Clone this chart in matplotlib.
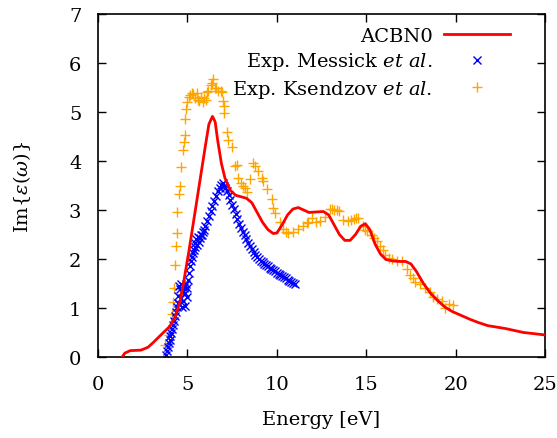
import matplotlib
matplotlib.use('Agg')
import matplotlib.pyplot as plt

# ACBN0 calculation (red line)
acbn0_x = [1.35, 1.5, 1.8, 2.4, 2.8, 3.1, 3.6, 4.0, 4.3, 4.6, 4.8, 5.1, 5.4, 5.7, 6.0, 6.2, 6.4,
           6.55, 6.7, 6.9, 7.1, 7.4, 7.7, 8.0, 8.3, 8.6, 8.9, 9.2, 9.5, 9.8, 10.0, 10.3, 10.6,
           10.9, 11.2, 11.5, 11.8, 12.2, 12.6, 12.9, 13.2, 13.5, 13.8, 14.1, 14.4, 14.7, 14.95,
           15.2, 15.5, 15.8, 16.1, 16.5, 16.9, 17.2, 17.5, 17.8, 18.2, 18.6, 19.0, 19.4, 19.8,
           20.3, 20.8, 21.3, 21.8, 22.3, 22.8, 23.3, 23.8, 24.3, 25.0]
acbn0_y = [0.0, 0.08, 0.13, 0.14, 0.2, 0.3, 0.48, 0.62, 0.8, 1.15, 1.55, 2.2, 2.9, 3.6, 4.3, 4.75, 4.91,
           4.8, 4.4, 3.95, 3.65, 3.4, 3.3, 3.27, 3.24, 3.15, 2.95, 2.75, 2.6, 2.52, 2.53, 2.7, 2.9,
           3.02, 3.05, 3.0, 2.95, 2.96, 2.97, 2.9, 2.7, 2.5, 2.38, 2.38, 2.5, 2.67, 2.72,
           2.6, 2.3, 2.1, 1.99, 1.96, 1.95, 1.95, 1.9, 1.75, 1.5, 1.3, 1.15, 1.02, 0.93,
           0.85, 0.77, 0.7, 0.64, 0.61, 0.58, 0.54, 0.5, 0.48, 0.45]

# Messick et al. (blue x)
messick_x = [3.80, 3.85, 3.90, 3.95, 4.00, 4.05, 4.10, 4.15, 4.20, 4.25, 4.30, 4.35, 4.40, 4.45,
             4.50, 4.52, 4.55, 4.58, 4.62, 4.65, 4.68, 4.72, 4.75, 4.78, 4.82, 4.85, 4.88, 4.92,
             4.95, 5.00, 5.05, 5.10, 5.15, 5.20, 5.25, 5.30, 5.35, 5.40, 5.45, 5.50, 5.55, 5.60,
             5.65, 5.70, 5.75, 5.80, 5.85, 5.90, 6.00, 6.10, 6.20, 6.30, 6.40, 6.50, 6.60, 6.70,
             6.80, 6.90, 7.00, 7.05, 7.10, 7.20, 7.30, 7.40, 7.50, 7.60, 7.70, 7.80, 7.90, 8.00,
             8.10, 8.20, 8.30, 8.40, 8.50, 8.60, 8.70, 8.80, 8.90, 9.00, 9.10, 9.20, 9.30, 9.40,
             9.50, 9.60, 9.70, 9.80, 9.90, 10.00, 10.10, 10.20, 10.30, 10.40, 10.50, 10.60,
             10.70, 10.80, 10.90, 11.00]
messick_y = [0.05, 0.12, 0.20, 0.28, 0.35, 0.42, 0.50, 0.58, 0.65, 0.74, 0.83, 0.92, 1.02, 1.10,
             1.25, 1.45, 1.08, 1.38, 1.20, 1.50, 1.02, 1.32, 1.45, 1.15, 1.40, 1.05, 1.30, 1.48,
             1.22, 1.40, 1.58, 1.72, 1.85, 1.95, 2.05, 2.12, 2.18, 2.25, 2.32, 2.40, 2.28, 2.45,
             2.35, 2.42, 2.50, 2.48, 2.55, 2.60, 2.68, 2.78, 2.88, 2.98, 3.08, 3.18, 3.28, 3.38,
             3.45, 3.52, 3.55, 3.48, 3.45, 3.38, 3.30, 3.20, 3.10, 3.02, 2.92, 2.82, 2.72, 2.63,
             2.55, 2.48, 2.40, 2.32, 2.26, 2.20, 2.14, 2.09, 2.04, 2.00, 1.96, 1.93, 1.90, 1.87,
             1.85, 1.82, 1.80, 1.77, 1.75, 1.72, 1.70, 1.68, 1.65, 1.63, 1.61, 1.58,
             1.56, 1.53, 1.51, 1.48]

# Ksendzov et al. (orange +)
ksendzov_x = [3.75, 3.95, 4.12, 4.17, 4.25, 4.29, 4.36, 4.40, 4.44, 4.55, 4.59, 4.66, 4.75, 4.81,
              4.85, 4.88, 4.92, 4.99, 5.10, 5.15, 5.25, 5.33, 5.42, 5.51, 5.60, 5.66, 5.75, 5.85,
              5.95, 6.04, 6.10, 6.17, 6.30, 6.36, 6.45, 6.54, 6.62, 6.73, 6.85, 6.92, 6.97, 7.05,
              7.06, 7.23, 7.29, 7.47, 7.66, 7.75, 7.85, 7.98, 8.10, 8.22, 8.32, 8.50, 8.65, 8.78,
              8.97, 9.15, 9.25, 9.44, 9.71, 9.80, 9.90, 10.18, 10.36, 10.50, 10.64, 10.92, 11.20,
              11.44, 11.67, 11.76, 11.95, 12.19, 12.42, 12.70, 12.98, 13.10, 13.20, 13.35, 13.50,
              13.72, 14.00, 14.15, 14.32, 14.45, 14.56, 14.84, 14.93, 15.06, 15.30, 15.45, 15.58,
              15.77, 15.92, 16.05, 16.25, 16.43, 16.71, 16.99, 17.27, 17.45, 17.60, 17.73, 18.00,
              18.29, 18.57, 18.72, 18.97, 19.22, 19.41, 19.65, 19.87]
ksendzov_y = [0.24, 0.45, 0.88, 1.12, 1.41, 1.88, 2.27, 2.54, 2.95, 3.33, 3.50, 3.87, 4.22, 4.38,
              4.53, 4.86, 5.07, 5.20, 5.30, 5.35, 5.38, 5.37, 5.28, 5.39, 5.25, 5.23, 5.30, 5.21,
              5.28, 5.25, 5.40, 5.42, 5.55, 5.60, 5.67, 5.50, 5.48, 5.43, 5.42, 5.40, 5.23, 5.13,
              4.97, 4.60, 4.43, 4.28, 3.90, 3.92, 3.65, 3.56, 3.50, 3.44, 3.36, 3.63, 3.96, 3.90,
              3.80, 3.65, 3.60, 3.42, 3.22, 3.05, 2.94, 2.76, 2.62, 2.55, 2.53, 2.56, 2.61,
              2.67, 2.73, 2.76, 2.83, 2.76, 2.78, 2.85, 3.02, 3.03, 3.01, 3.00, 2.97,
              2.80, 2.78, 2.80, 2.82, 2.84, 2.83, 2.68, 2.60, 2.58, 2.48, 2.42, 2.37,
              2.27, 2.19, 2.08, 2.02, 1.99, 1.95, 1.95, 1.80, 1.67, 1.61, 1.54, 1.49,
              1.40, 1.32, 1.22, 1.18, 1.15, 0.99, 1.08, 1.06]

plt.rcParams['font.family'] = ['DejaVu Serif']
plt.rcParams['mathtext.fontset'] = 'dejavuserif'
plt.rcParams['font.size'] = 14

fig = plt.figure(figsize=(5.57, 4.39), dpi=100)
ax = fig.add_axes([0.176, 0.1845, 0.8025, 0.7813])

ax.plot(acbn0_x, acbn0_y, color='#ff0000', lw=2, label='ACBN0', zorder=3)
ax.plot(messick_x, messick_y, ls='none', marker='x', color='#0000ff', ms=6, mew=1,
        label=r'Exp. Messick $\it{et\ al.}$', zorder=2)
ax.plot(ksendzov_x, ksendzov_y, ls='none', marker='+', color='#ffa500', ms=7, mew=1,
        label=r'Exp. Ksendzov $\it{et\ al.}$', zorder=1)

ax.set_xlim(0, 25)
ax.set_ylim(0, 7)
ax.set_xticks([0, 5, 10, 15, 20, 25])
ax.set_yticks(range(8))
ax.tick_params(direction='in', top=True, right=True, length=6, width=1)
ax.tick_params(axis='x', pad=13)
ax.tick_params(axis='y', pad=12)
for s in ax.spines.values():
    s.set_linewidth(1.2)

ax.set_xlabel('Energy [eV]', labelpad=12)
ax.set_ylabel(r'Im$\{\epsilon(\omega)\}$', labelpad=26)

ax.legend(loc='upper right', bbox_to_anchor=(0.922, 0.962), frameon=False, markerfirst=False,
          handlelength=3.4, borderaxespad=0, borderpad=0, labelspacing=0.28, handletextpad=0.6)

fig.savefig('out.png', dpi=100)
